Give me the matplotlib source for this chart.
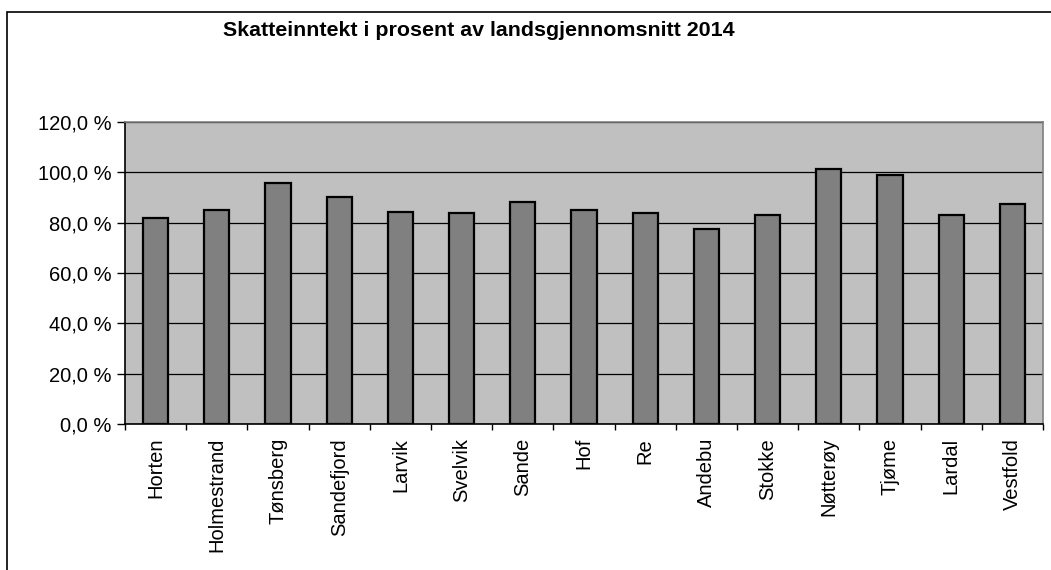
#Bar chart: skatteinntekt i prosent av landsgjennomsnitt 2014, Vestfold-kommuner

import matplotlib
matplotlib.use("Agg")
from matplotlib import pyplot as plt
from matplotlib.patches import Rectangle
from matplotlib.ticker import FuncFormatter
import numpy as np

kommuner = ["Horten", "Holmestrand", "Tønsberg", "Sandefjord", "Larvik", "Svelvik",
            "Sande", "Hof", "Re", "Andebu", "Stokke", "Nøtterøy", "Tjøme", "Lardal",
            "Vestfold"]
prosent = [82.0, 85.2, 95.8, 90.2, 84.1, 83.7, 88.1, 85.0, 83.7, 77.4, 83.0,
           101.4, 98.8, 83.2, 87.3]
y_ticks = [0, 20, 40, 60, 80, 100, 120]

W, H = 1051, 570
plt.rcParams['font.family'] = ['Liberation Sans', 'DejaVu Sans']

fig = plt.figure(figsize=(W / 100, H / 100), dpi=100)
ax = fig.add_axes([125 / W, 1 - 424 / H, (1043 - 125) / W, (424 - 122) / H])

x = np.arange(len(kommuner))
ax.set_facecolor("#c0c0c0")
ax.bar(x, prosent, width=0.41, color="#808080", edgecolor="black", linewidth=1.6, zorder=3)

# grid lines
ax.set_yticks(y_ticks)
ax.yaxis.grid(True, color="black", linewidth=0.9, zorder=1)
ax.set_ylim(0, 120)
ax.set_xlim(-0.5, len(kommuner) - 0.5)
ax.yaxis.set_major_formatter(FuncFormatter(lambda v, p: f"{v:.1f} %".replace(".", ",")))

# category labels centered, ticks between categories
ax.set_xticks(x)
ax.set_xticklabels(kommuner, rotation=90, fontsize=14.5)
ax.set_xticks(np.arange(len(kommuner) + 1) - 0.5, minor=True)
ax.tick_params(axis="x", which="major", length=0, pad=10)
ax.tick_params(axis="x", which="minor", length=4.5, width=1, color="black", direction="out")
ax.tick_params(axis="y", labelsize=14.5, length=5.5, width=1, direction="out", pad=4.3)

ax.spines["left"].set_color("black")
ax.spines["bottom"].set_color("black")
ax.spines["top"].set_color("#808080")
ax.spines["right"].set_color("#808080")
for s in ax.spines.values():
    s.set_linewidth(1.2)

fig.text(479 / W, 1 - 30 / H, "Skatteinntekt i prosent av landsgjennomsnitt 2014",
         ha="center", va="center", fontsize=15.4, fontweight="bold")

# outer chart border
fig.patches.append(Rectangle((7 / W, -0.05), 1.05, 1.05 - 12 / H, transform=fig.transFigure,
                             fill=False, edgecolor="black", linewidth=1.2))

fig.savefig("out.png", dpi=100)
